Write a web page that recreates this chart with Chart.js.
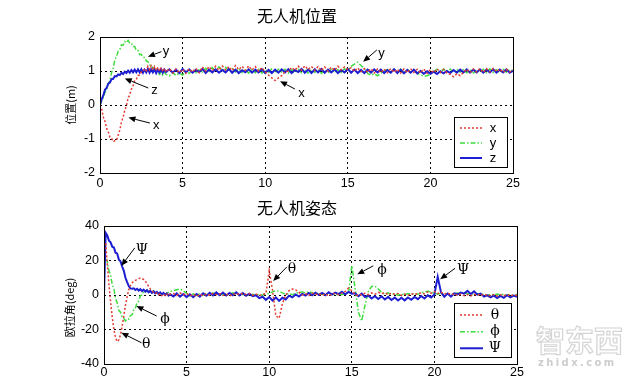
<!DOCTYPE html>
<html><head><meta charset="utf-8">
<script src="https://cdn.jsdelivr.net/npm/chart.js@4.4.1/dist/chart.umd.min.js"></script>
<style>
html,body{margin:0;padding:0;background:#fff;width:640px;height:383px;overflow:hidden;position:relative;}
#c1{position:absolute;left:0;top:0;width:640px;height:195px;}
#c2{position:absolute;left:0;top:195px;width:640px;height:188px;}
.wm1{position:absolute;left:536px;top:318px;font:bold 29px "Noto Sans CJK SC";color:#fff;-webkit-text-stroke:1.2px #d4d4d4;letter-spacing:0px;white-space:nowrap;}
.wm2{position:absolute;left:538px;top:357px;font:bold 10px "DejaVu Sans";color:#cdcdcd;letter-spacing:2.4px;white-space:nowrap;}
</style></head><body>
<canvas id="c1" width="640" height="195"></canvas>
<canvas id="c2" width="640" height="188"></canvas>
<div class="wm1">智东西</div>
<div class="wm2">zhidx.com</div>
<script>
// time samples (s)
const time = [0,0.1,0.2,0.3,0.4,0.5,0.6,0.7,0.8,0.9,1,1.1,1.2,1.3,1.4,1.5,1.6,1.7,1.8,1.9,2,2.1,2.2,2.3,2.4,2.5,2.6,2.7,2.8,2.9,3,3.1,3.2,3.3,3.4,3.5,3.6,3.7,3.8,3.9,4,
4.2,4.4,4.6,4.8,5,5.2,5.4,5.6,5.8,6,6.2,6.4,6.6,6.8,7,7.2,7.4,7.6,7.8,8,8.2,8.4,8.6,8.8,9,9.2,9.4,9.6,9.8,10,
10.2,10.4,10.6,10.8,11,11.2,11.4,11.6,11.8,12,12.2,12.4,12.6,12.8,13,13.2,13.4,13.6,13.8,14,14.2,14.4,14.6,14.8,15,
15.2,15.4,15.6,15.8,16,16.2,16.4,16.6,16.8,17,17.2,17.4,17.6,17.8,18,18.2,18.4,18.6,18.8,19,19.2,19.4,19.6,19.8,20,
20.2,20.4,20.6,20.8,21,21.2,21.4,21.6,21.8,22,22.2,22.4,22.6,22.8,23,23.2,23.4,23.6,23.8,24,24.2,24.4,24.6,24.8,25];

// 无人机位置 (m)
const posX = [0,-0.12,-0.35,-0.48,-0.69,-0.78,-0.95,-0.98,-1.08,-1.05,-1.04,-0.88,-0.74,-0.5,-0.36,-0.15,-0.02,0.2,0.3,0.47,
0.56,0.72,0.76,0.87,0.88,0.97,0.98,1.07,1.01,1.14,1.04,1.15,1.03,1.13,1.01,1.11,1.0,1.1,0.98,1.08,0.97,
1.07,0.94,1.06,0.95,1.05, 0.93,1.06,0.97,1.08,0.95, 1.12,1.0,1.13,1.01,1.14, 1.02,1.15,1.03,1.13,1.01, 1.16,1.04,1.14,1.02,1.15,
1.03,1.13,1.0,1.1,0.98, 0.88,0.8,0.72,0.8,0.86, 0.98,1.0,1.1,1.02,1.14, 1.03,1.15,1.04,1.13,1.02, 1.13,1.01,1.12,1.0,1.11,
1.02,1.14,1.03,1.12,1.04, 1.1,0.99,1.09,0.98,1.07, 0.96,1.07,0.94,1.06,0.95, 1.06,0.95,1.07,0.96,1.05, 0.94,1.06,0.95,1.07,0.96,
1.05,0.94,1.06,0.93,1.04, 0.95,1.06,0.96,1.05,0.94, 0.9,0.83,0.92,0.86,0.96, 1.05,0.95,1.06,0.97,1.07, 0.96,1.07,0.97,1.08,0.98,
1.06,0.96,1.05,0.97,1.03];
const posY = [0,0.12,0.2,0.37,0.46,0.63,0.72,0.95,1.08,1.33,1.43,1.58,1.63,1.77,1.76,1.87,1.83,1.9,1.82,1.82,
1.72,1.72,1.6,1.6,1.48,1.49,1.4,1.4,1.3,1.28,1.18,1.17,1.08,1.08,0.98,0.99,0.9,0.97,0.88,0.96,0.9,
0.86,0.95,0.87,0.94,0.88, 0.99,0.93,1.04,0.95,1.03, 0.97,1.08,0.99,1.1,1.0, 1.12,1.01,1.11,0.99,1.08, 0.97,1.07,0.95,1.05,0.94,
1.04,0.95,1.05,0.94,1.04, 0.96,1.06,0.95,1.05,0.97, 1.05,0.94,1.04,0.95,1.05, 0.95,1.05,0.94,1.04,0.96, 1.04,0.93,1.03,0.95,1.05,
0.95,1.04,0.96,1.06,1.02, 1.14,1.2,1.26,1.16,1.07, 0.93,0.88,0.92,0.86,0.93, 1.0,1.04,0.95,1.05,0.96, 1.05,0.95,1.04,0.96,1.03,
0.93,0.89,0.85,0.86,0.9, 0.98,1.05,0.96,1.06,0.97, 1.06,0.96,1.05,0.97,1.04, 0.95,1.04,0.94,1.03,0.96, 1.05,0.95,1.06,0.96,1.04,
0.95,1.05,0.96,1.04,1.0];
const posZ = [0,0.17,0.28,0.45,0.5,0.63,0.66,0.76,0.77,0.85,0.84,0.9,0.88,0.95,0.91,0.98,0.94,1.01,0.95,1.03,
0.96,1.04,0.96,1.05,0.96,1.05,0.95,1.04,0.96,1.06,0.95,1.05,0.96,1.05,0.94,1.04,0.96,1.05,0.95,1.04,0.97,
1.05,0.95,1.04,0.94,1.06, 0.96,1.05,0.95,1.03,0.97, 1.06,0.94,1.04,0.96,1.05, 0.95,1.03,0.96,1.06,0.95, 1.04,0.94,1.02,0.96,1.05,
0.95,1.04,0.96,1.05,0.94, 1.03,0.94,1.04,0.95,1.05, 0.96,1.05,0.94,1.03,0.97, 1.06,0.95,1.04,0.94,1.05, 0.96,1.06,0.95,1.04,0.96,
1.05,0.94,1.03,0.96,1.06, 0.95,1.04,0.94,1.03,0.94, 1.04,0.95,1.05,0.96,1.04, 0.94,1.03,0.95,1.05,0.94, 1.04,0.93,1.03,0.95,1.04,
0.93,1.0,0.92,0.99,0.92, 0.98,0.91,0.99,0.93,1.0, 0.94,1.03,0.95,1.04,0.96, 1.05,0.95,1.04,0.96,1.05, 0.95,1.04,0.96,1.05,0.95,
1.04,0.96,1.05,0.95,1.0];

// 无人机姿态 (deg)
const angTheta = [28,30,18,6,-4,-13,-20,-25,-27,-26,-23,-18,-12,-6,-1,3,5.5,7,8,8.5,
9,9.5,9.8,9.5,9,8,6.5,5,3.5,2.5,1.5,0.8,1.2,0.2,0.9,-0.4,0.6,-0.3,0.7,-0.5,0.4,
0.8,-0.3,1.2,0.2,0.9, -0.5,0.4,-0.8,0.3,-0.4, 0.6,-0.2,0.9,0.1,0.7, -0.3,0.5,-0.6,0.4,0.9, 0.2,1.0,0.3,0.8,-0.2,
0.5,-0.4,0.3,0.8,14, 3,-12,-13.5,-5,0, 2.5,3.5,3,1.5,0, 0.8,-0.4,1.1,0.2,0.9, -0.3,0.7,-0.5,0.4,1.0,
0.2,1.2,2,4,2.5, 0.5,-0.5,0.3,1,0.2, 1.2,0.5,1.5,0.8,1.3, 0.2,1,0.4,0.9,-0.2, 0.6,-0.1,0.8,0.3,0.9,
1.2,0.6,1.8,1.1,2, 0.8,1.6,0.5,1.2,0.2, 0.7,-0.2,0.5,-0.4,0.3, -0.5,0.4,-0.2,0.6,-0.4, 0.3,-0.5,0.2,-0.6,0.1,
-0.4,0.3,-0.6,0.1,-0.3];
const angPhi = [27,21,19.5,14,11.5,6,3.5,-2,-4.5,-9,-10,-13,-13.5,-15,-13.8,-14,-12,-11.5,-8.5,-7.5,
-4.5,-3.5,-0.5,0,2,1.5,2.8,1.4,2.6,1.2,2.4,1,1.9,0.6,1.3,0.1,0.9,-0.2,1.1,1.5,2.2,
2.5,3,3.5,2.5,1, -0.5,0.6,-0.3,0.8,0.1, 0.9,0.2,1.1,0.4,0.8, 0.1,0.9,0.3,1.2,0.5, 1.0,0.2,0.7,-0.2,0.4,
-0.3,0.5,-0.1,0.6,0.8, 1.8,2.5,2.2,1.2,0.3, 0.9,0.2,1.0,1.5,1.8, 1.2,2,1.3,0.6,1.1, 0.3,0.9,0.1,0.7,-0.1,
0.6,0.1,0.8,1,17, 4,-10,-15,-6,2, 5,5.2,3.5,1.5,0.5, 1.2,0.3,0.9,-0.2,0.6, 0.1,0.8,0.2,0.9,0.4,
1.2,1.8,2.2,1.8,1, 0.4,1,0.2,0.8,0.1, 0.7,1.2,0.5,1.3,0.6, 0.9,0.2,0.8,0.1,0.6, -0.2,0.5,-0.1,0.6,0,
0.5,-0.3,0.4,-0.2,0.3];
const angPsi = [0,36,34.5,31.5,30.5,28,27.5,24.5,24,20.5,19.5,16.5,14,10,7.5,5.2,3.8,3.6,3.9,2.9,
3.6,2.6,3.4,2.3,3.1,2.0,2.8,1.6,2.4,1.3,2.1,1.0,1.8,0.7,1.5,0.4,1.2,0.1,0.9,-0.3,0.5,
-0.8,0.9,-1.0,0.6,-1.2, 0.4,-1.3,0.6,-0.9,1.0, -0.4,1.3,-0.2,1.5,-0.1, 1.4,-0.3,1.2,-0.1,1.6, -0.2,1.2,-0.4,0.8,-0.7,
-0.1,-1.8,-1.0,-2.8,-1.2, -3.2,-1.4,-3.4,-1.6,-2.6, -0.4,-1.4,0.3,-0.9,0.6, -0.3,1.2,-0.2,1.3,0.1, 1.2,-0.1,1.6,0.2,1.4,
0.5,1.9,0.4,1.8,0.8, 1.0,-0.7,0.8,-1.2,-0.3, -2.0,-0.7,-2.3,-0.8,-2.6, -1.1,-2.9,-1.5,-3.2,-1.6, -3.1,-1.4,-2.8,-1.1,-2.4,
-0.6,-2.0,-0.2,-1.4,0.3, 10.5,1.5,-1.0,0.8,-0.9, 1.0,0.4,1.4,0.8,2.4, 0.6,2.1,0.2,0.8,-0.9, -0.2,-1.4,-0.4,-1.7,-0.5,
-1.6,-0.1,-1.4,-0.3,-1.0];

const posLabels = ['x','y','z'];
const angLabels = ['θ','ϕ','Ψ'];

// callouts anchored in data coordinates
const notesTop = [
  {text:'y', lx:4.0, ly:1.57, tx:3.72, ty:1.57, hx:2.9, hy:1.42},
  {text:'z', lx:3.3, ly:0.44, tx:2.92, ty:0.5, hx:1.5, hy:0.78},
  {text:'x', lx:3.41, ly:-0.59, tx:3.02, ty:-0.53, hx:1.72, hy:-0.37},
  {text:'x', lx:12.19, ly:0.34, tx:11.8, ty:0.47, hx:10.9, hy:0.7},
  {text:'y', lx:17.04, ly:1.52, tx:16.76, ty:1.62, hx:15.93, hy:1.27}
];
const notesBottom = [
  {text:'Ψ', lx:2.3, ly:25.6, tx:1.86, ty:27.3, hx:1.05, hy:16.9},
  {text:'ϕ', lx:3.7, ly:-14.1, tx:3.19, ty:-12.2, hx:1.96, hy:-6.4},
  {text:'θ', lx:2.55, ly:-28.7, tx:2.27, ty:-27.7, hx:1.05, hy:-21.9},
  {text:'θ', lx:11.38, ly:14.9, tx:11.07, ty:16.3, hx:10.24, hy:8.1},
  {text:'ϕ', lx:16.83, ly:14, tx:16.3, ty:16.9, hx:15.33, hy:12.0},
  {text:'Ψ', lx:21.74, ly:14, tx:21.25, ty:15.5, hx:20.35, hy:9.1}
];

const RED = '#e23b33', GREEN = '#3fdc3f', BLUE = '#1d1dd2';
const styles = [
  {color:RED, width:1.5, dash:[2,2]},
  {color:GREEN, width:1.5, dash:[5,2,1.5,2]},
  {color:BLUE, width:2, dash:[]}
];
const tickFont = {family:'"Liberation Sans", Arial, sans-serif', size:12.5};

function series(vals){ return time.map((t,i)=>({x:t, y:vals[i]})); }

function overlay(o){
  return {
    id:'overlay',
    afterDraw(chart){
      const {ctx, chartArea:a, scales:{x, y}} = chart;
      ctx.save();
      ctx.setLineDash([]);
      ctx.strokeStyle = '#000'; ctx.lineWidth = 1;
      ctx.strokeRect(a.left+0.5, a.top+0.5, a.right-a.left, a.bottom-a.top);
      ctx.fillStyle = '#000';
      ctx.font = '16px "Noto Sans CJK SC"';
      ctx.textAlign = 'center'; ctx.textBaseline = 'middle';
      ctx.fillText(o.title, o.titleX, o.titleY);
      ctx.save();
      ctx.translate(o.yTitleX, o.yTitleY);
      ctx.rotate(-Math.PI/2);
      ctx.font = '11px "Noto Sans CJK SC"';
      ctx.fillText(o.yTitle, 0, 0);
      ctx.restore();
      o.notes.forEach(n=>{
        const tx = x.getPixelForValue(n.tx), ty = y.getPixelForValue(n.ty);
        const hx = x.getPixelForValue(n.hx), hy = y.getPixelForValue(n.hy);
        const ang = Math.atan2(hy-ty, hx-tx);
        const L = 7, W = 3;
        const bx = hx - L*Math.cos(ang), by = hy - L*Math.sin(ang);
        ctx.strokeStyle = '#000'; ctx.lineWidth = 1;
        ctx.beginPath(); ctx.moveTo(tx, ty); ctx.lineTo(bx, by); ctx.stroke();
        ctx.fillStyle = '#000';
        ctx.beginPath();
        ctx.moveTo(hx, hy);
        ctx.lineTo(bx + W*Math.sin(ang), by - W*Math.cos(ang));
        ctx.lineTo(bx - W*Math.sin(ang), by + W*Math.cos(ang));
        ctx.closePath(); ctx.fill();
        ctx.font = o.noteFont;
        ctx.textAlign = 'center'; ctx.textBaseline = 'middle';
        ctx.fillText(n.text, x.getPixelForValue(n.lx), y.getPixelForValue(n.ly));
      });
      const bx0 = a.right - o.leg.r - o.leg.w, by0 = a.bottom - o.leg.b - o.leg.h;
      ctx.fillStyle = '#fff';
      ctx.fillRect(bx0, by0, o.leg.w, o.leg.h);
      ctx.strokeStyle = '#000'; ctx.lineWidth = 1; ctx.setLineDash([]);
      ctx.strokeRect(bx0+0.5, by0+0.5, o.leg.w, o.leg.h);
      o.labels.forEach((lab, i)=>{
        const ry = by0 + o.leg.rows[i];
        const s = styles[i];
        ctx.strokeStyle = s.color; ctx.lineWidth = s.width; ctx.setLineDash(s.dash);
        ctx.beginPath(); ctx.moveTo(bx0+6, ry); ctx.lineTo(bx0+o.leg.lineEnd, ry); ctx.stroke();
        ctx.setLineDash([]);
        ctx.fillStyle = '#000';
        ctx.font = o.noteFont;
        ctx.textAlign = 'center'; ctx.textBaseline = 'middle';
        ctx.fillText(lab, bx0 + o.leg.textX, ry);
      });
      ctx.restore();
    }
  };
}

function makeChart(id, vals, labels, yMin, yMax, yStep, pad, yW, xH, xPad, opts){
  return new Chart(document.getElementById(id), {
    type:'line',
    data:{datasets: vals.map((v,i)=>({
      label: labels[i], data: series(v),
      borderColor: styles[i].color, borderWidth: styles[i].width, borderDash: styles[i].dash,
      pointRadius:0, tension:0, fill:false, order: i===2 ? 0 : i
    }))},
    options:{
      responsive:false, animation:false, events:[],
      plugins:{legend:{display:false}, title:{display:false}, tooltip:{enabled:false}},
      layout:{padding:pad},
      scales:{
        x:{type:'linear', min:0, max:25,
           ticks:{stepSize:5, color:'#000', font:tickFont, padding:xPad, maxRotation:0, autoSkip:false},
           grid:{color:'#000', lineWidth:1, drawTicks:false},
           border:{display:false, dash:[2,3]},
           afterFit(s){ s.height = xH; }},
        y:{type:'linear', min:yMin, max:yMax,
           ticks:{stepSize:yStep, color:'#000', font:tickFont, padding:5},
           grid:{color:'#000', lineWidth:1, drawTicks:false},
           border:{display:false, dash:[2,3]},
           afterFit(s){ s.width = yW; }}
      }
    },
    plugins:[overlay(opts)]
  });
}

makeChart('c1', [posX,posY,posZ], posLabels, -2, 2, 1,
  {left:0, right:127, top:37, bottom:0}, 100, 22, 3,
  {title:'无人机位置', titleX:297, titleY:16, yTitle:'位置(m)', yTitleX:71, yTitleY:105,
   notes:notesTop, labels:posLabels, noteFont:'13px "Liberation Sans", Arial, sans-serif',
   leg:{w:53, h:50, r:6, b:6, rows:[11,26,41], lineEnd:28, textX:39}});

makeChart('c2', [angTheta,angPhi,angPsi], angLabels, -40, 40, 20,
  {left:0, right:123, top:31, bottom:0}, 104, 19, 1,
  {title:'无人机姿态', titleX:297, titleY:12.5, yTitle:'欧拉角(deg)', yTitleX:70, yTitleY:112.5,
   notes:notesBottom, labels:angLabels, noteFont:'14px "DejaVu Serif", serif',
   leg:{w:57, h:54, r:6, b:7, rows:[12,28.7,45.3], lineEnd:29, textX:41}});
</script>
</body></html>
